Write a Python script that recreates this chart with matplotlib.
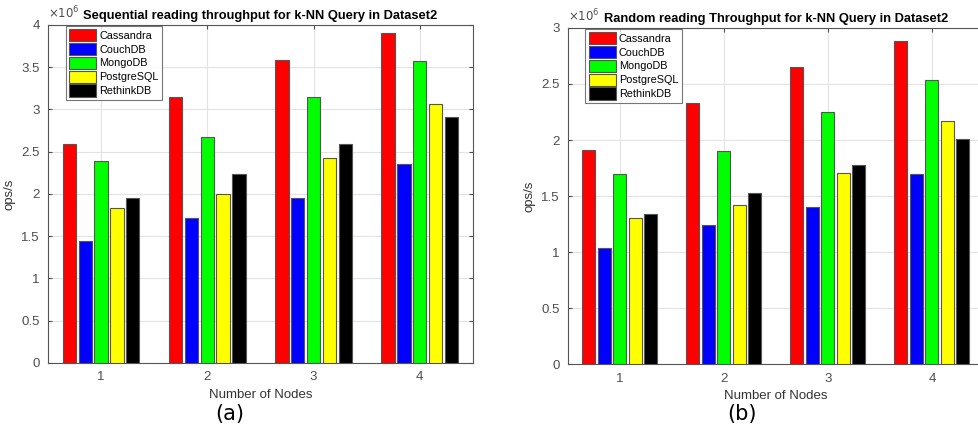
import numpy as np
import matplotlib
matplotlib.use("Agg")
import matplotlib.pyplot as plt
from matplotlib.ticker import FuncFormatter

plt.rcParams["font.family"] = ["Liberation Sans", "DejaVu Sans"]

# values in millions of ops/s
nodes = [1, 2, 3, 4]
databases = ["Cassandra", "CouchDB", "MongoDB", "PostgreSQL", "RethinkDB"]
colors = ["#ff0000", "#0000ff", "#00ff00", "#ffff00", "#000000"]

seq_cassandra = [2.59, 3.15, 3.58, 3.90]
seq_couchdb = [1.44, 1.71, 1.95, 2.35]
seq_mongodb = [2.39, 2.67, 3.15, 3.57]
seq_postgresql = [1.83, 2.00, 2.42, 3.07]
seq_rethinkdb = [1.95, 2.23, 2.59, 2.91]

rnd_cassandra = [1.91, 2.33, 2.65, 2.88]
rnd_couchdb = [1.04, 1.24, 1.40, 1.70]
rnd_mongodb = [1.70, 1.90, 2.25, 2.54]
rnd_postgresql = [1.30, 1.42, 1.71, 2.17]
rnd_rethinkdb = [1.34, 1.53, 1.78, 2.01]

seq_data = [seq_cassandra, seq_couchdb, seq_mongodb, seq_postgresql, seq_rethinkdb]
rnd_data = [rnd_cassandra, rnd_couchdb, rnd_mongodb, rnd_postgresql, rnd_rethinkdb]

fig = plt.figure(figsize=(9.79, 4.30), dpi=100)
ax1 = fig.add_axes([0.049, 0.156, 0.434, 0.786])
ax2 = fig.add_axes([0.580, 0.153, 0.425, 0.782])

tick_gray = "#4d4d4d"


def draw_panel(ax, data, ymax, yticks, title, tag, tag_x):
    x = np.array(nodes)
    slot = 0.149
    for i, (vals, name, c) in enumerate(zip(data, databases, colors)):
        ax.bar(x + (i - 2) * slot, vals, width=0.125, color=c,
               edgecolor="#555555", linewidth=0.8, label=name, zorder=3)
    ax.set_xlim(0.5, 4.5)
    ax.set_ylim(0, ymax)
    ax.set_xticks(nodes)
    ax.set_yticks(yticks)
    ax.yaxis.set_major_formatter(FuncFormatter(lambda v, p: "%g" % v))
    ax.grid(True, color="#e3e3e3", linewidth=0.8, zorder=0)
    ax.tick_params(direction="in", top=True, right=True, length=3,
                   labelsize=9.5, colors=tick_gray, labelcolor=tick_gray, pad=6)
    for s in ax.spines.values():
        s.set_color("#555555")
        s.set_linewidth(0.8)
    ax.set_title(title, fontsize=9.3, fontweight="bold", pad=4)
    ax.set_xlabel("Number of Nodes", fontsize=9.5, color="#333333", labelpad=4)
    ax.set_ylabel("ops/s", fontsize=9.5, color="#333333", labelpad=4)
    ax.text(0.0, 1.012, r"$\times10^{6}$", transform=ax.transAxes,
            fontsize=8.5, color=tick_gray, ha="left", va="bottom")
    leg = ax.legend(loc="upper left", bbox_to_anchor=(0.042, 0.997),
                    fontsize=7.8, frameon=True, fancybox=False,
                    borderpad=0.3, labelspacing=0.15, handlelength=2.5,
                    handleheight=1.35, handletextpad=0.3, borderaxespad=0.0)
    leg.get_frame().set_edgecolor("#555555")
    leg.get_frame().set_linewidth(0.8)
    fig.text(tag_x, 0.015, tag, fontsize=15, ha="center", va="bottom",
             family=["DejaVu Sans"])


draw_panel(ax1, seq_data, 4, np.arange(0, 4.01, 0.5),
           "Sequential reading throughput for k-NN Query in Dataset2", "(a)", 0.235)
draw_panel(ax2, rnd_data, 3, np.arange(0, 3.01, 0.5),
           "Random reading Throughput for k-NN Query in Dataset2", "(b)", 0.758)

fig.savefig("out.png", dpi=100)
